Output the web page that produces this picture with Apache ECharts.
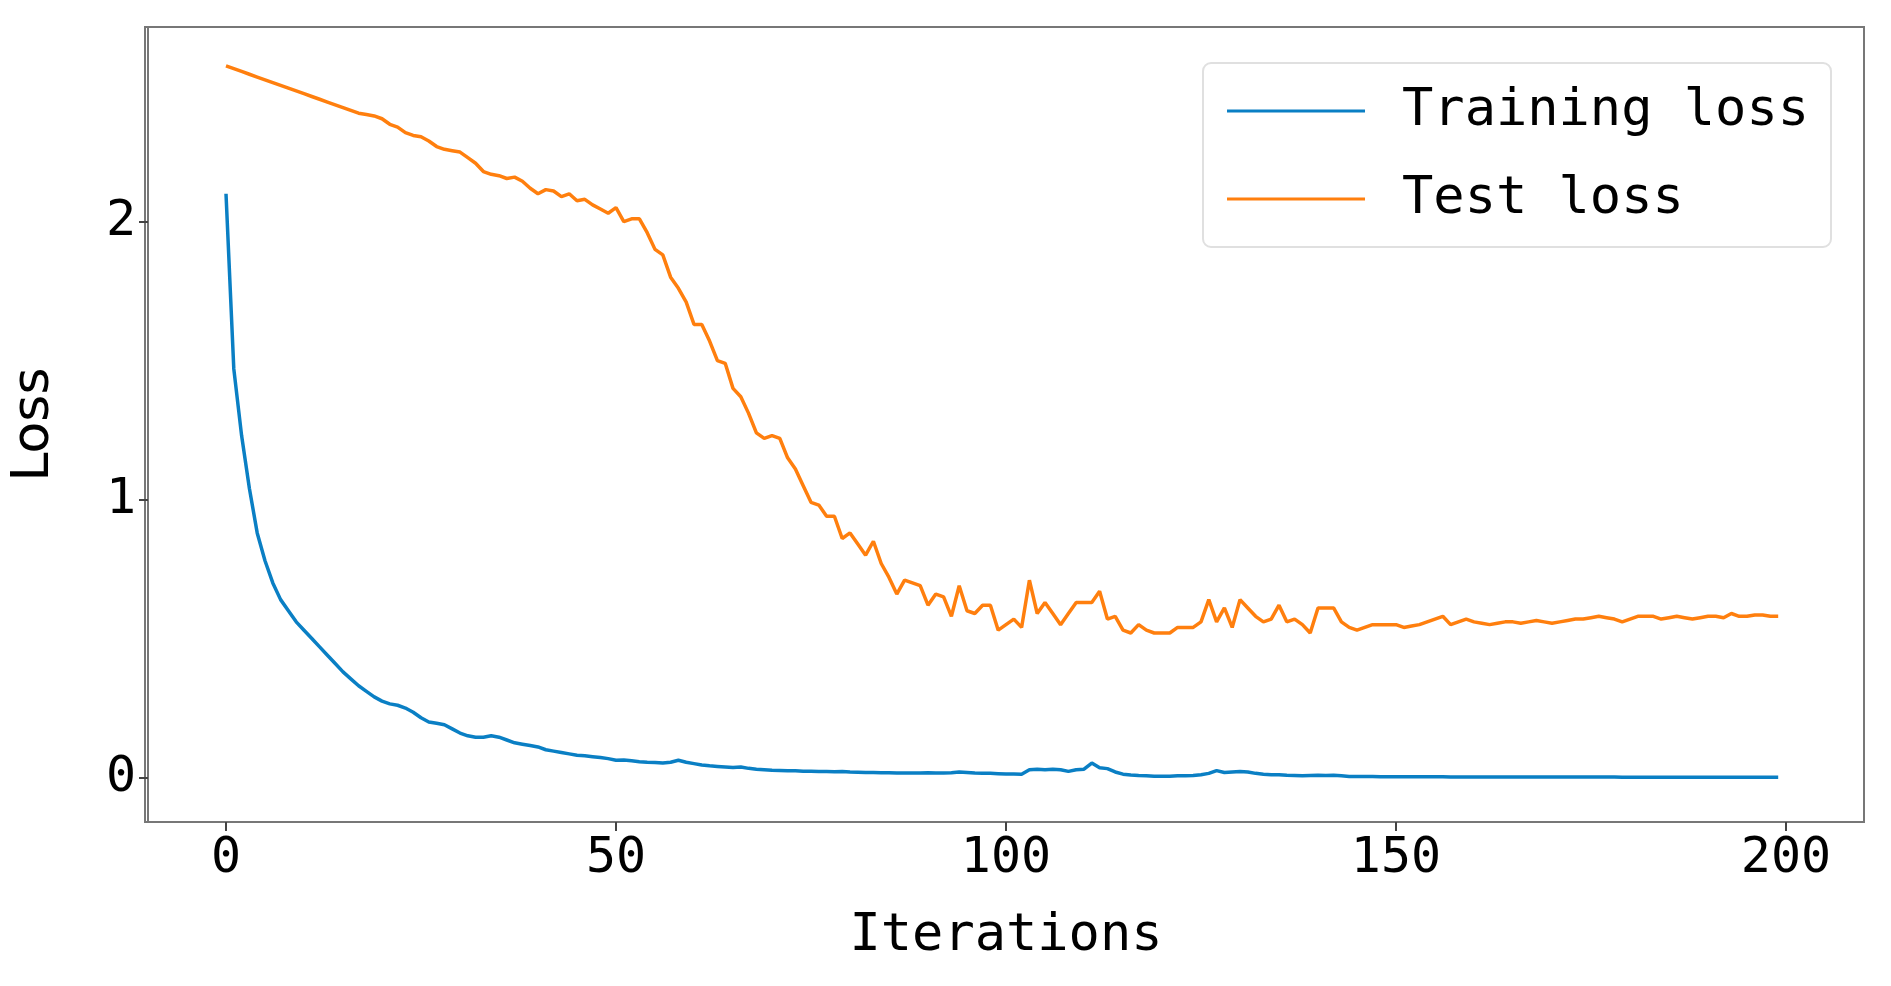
<!DOCTYPE html>
<html>
<head>
<meta charset="utf-8">
<script src="https://cdn.jsdelivr.net/npm/echarts@6/dist/echarts.min.js"></script>
<style>html,body{margin:0;background:#fff}#chart{width:1891px;height:986px}</style>
</head>
<body>
<div id="chart"></div>
<script>
// iterations 0..199
const iterations = Array.from({ length: 200 }, (_, i) => i)
const xTicks = [0, 50, 100, 150, 200]
const yTicks = [0, 1, 2]

const trainingLoss = [
  2.10, 1.47, 1.23, 1.04, 0.88, 0.78, 0.70, 0.64, 0.60, 0.56,
  0.53, 0.50, 0.47, 0.44, 0.41, 0.38, 0.355, 0.33, 0.31, 0.29,
  0.275, 0.265, 0.26, 0.25, 0.235, 0.215, 0.20, 0.195, 0.19, 0.175,
  0.16, 0.15, 0.145, 0.145, 0.15, 0.145, 0.135, 0.125, 0.12, 0.115,
  0.11, 0.10, 0.095, 0.09, 0.085, 0.08, 0.078, 0.075, 0.072, 0.068,
  0.062, 0.063, 0.06, 0.057, 0.055, 0.054, 0.052, 0.055, 0.062, 0.055,
  0.05, 0.045, 0.042, 0.04, 0.038, 0.036, 0.038, 0.033, 0.03, 0.028,
  0.026, 0.025, 0.024, 0.024, 0.023, 0.023, 0.022, 0.022, 0.021, 0.022,
  0.02, 0.019, 0.018, 0.018, 0.017, 0.017, 0.016, 0.016, 0.016, 0.016,
  0.017, 0.016, 0.016, 0.017, 0.02, 0.018, 0.016, 0.015, 0.015, 0.014,
  0.013, 0.013, 0.012, 0.028, 0.03, 0.028, 0.03, 0.028, 0.022, 0.028,
  0.03, 0.052, 0.035, 0.032, 0.02, 0.012, 0.009, 0.007, 0.006, 0.005,
  0.005, 0.005, 0.006, 0.006, 0.007, 0.01, 0.015, 0.025, 0.018, 0.02,
  0.022, 0.02, 0.015, 0.012, 0.01, 0.01, 0.008, 0.007, 0.006, 0.007,
  0.008, 0.007, 0.008, 0.006, 0.004, 0.004, 0.004, 0.004, 0.003, 0.003,
  0.003, 0.003, 0.003, 0.003, 0.003, 0.003, 0.003, 0.002, 0.002, 0.002,
  0.002, 0.002, 0.002, 0.002, 0.002, 0.002, 0.002, 0.002, 0.002, 0.002,
  0.002, 0.002, 0.002, 0.002, 0.002, 0.002, 0.002, 0.002, 0.002, 0.001,
  0.001, 0.001, 0.001, 0.001, 0.001, 0.001, 0.001, 0.001, 0.001, 0.001,
  0.001, 0.001, 0.001, 0.001, 0.001, 0.001, 0.001, 0.001, 0.001, 0.001
]

const testLoss = [
  2.56, 2.55, 2.54, 2.53, 2.52, 2.51, 2.50, 2.49, 2.48, 2.47,
  2.46, 2.45, 2.44, 2.43, 2.42, 2.41, 2.40, 2.39, 2.385, 2.38,
  2.37, 2.35, 2.34, 2.32, 2.31, 2.305, 2.29, 2.27, 2.26, 2.255,
  2.25, 2.23, 2.21, 2.18, 2.17, 2.165, 2.155, 2.16, 2.145, 2.12,
  2.10, 2.115, 2.11, 2.09, 2.10, 2.075, 2.08, 2.06, 2.045, 2.03,
  2.05, 2.00, 2.01, 2.01, 1.96, 1.90, 1.88, 1.80, 1.76, 1.71,
  1.63, 1.63, 1.57, 1.50, 1.49, 1.40, 1.37, 1.31, 1.24, 1.22,
  1.23, 1.22, 1.15, 1.11, 1.05, 0.99, 0.98, 0.94, 0.94, 0.86,
  0.88, 0.84, 0.80, 0.85, 0.77, 0.72, 0.66, 0.71, 0.70, 0.69,
  0.62, 0.66, 0.65, 0.58, 0.69, 0.60, 0.59, 0.62, 0.62, 0.53,
  0.55, 0.57, 0.54, 0.71, 0.59, 0.63, 0.59, 0.55, 0.59, 0.63,
  0.63, 0.63, 0.67, 0.57, 0.58, 0.53, 0.52, 0.55, 0.53, 0.52,
  0.52, 0.52, 0.54, 0.54, 0.54, 0.56, 0.64, 0.56, 0.61, 0.54,
  0.64, 0.61, 0.58, 0.56, 0.57, 0.62, 0.56, 0.57, 0.55, 0.52,
  0.61, 0.61, 0.61, 0.56, 0.54, 0.53, 0.54, 0.55, 0.55, 0.55,
  0.55, 0.54, 0.545, 0.55, 0.56, 0.57, 0.58, 0.55, 0.56, 0.57,
  0.56, 0.555, 0.55, 0.555, 0.56, 0.56, 0.555, 0.56, 0.565, 0.56,
  0.555, 0.56, 0.565, 0.57, 0.57, 0.575, 0.58, 0.575, 0.57, 0.56,
  0.57, 0.58, 0.58, 0.58, 0.57, 0.575, 0.58, 0.575, 0.57, 0.575,
  0.58, 0.58, 0.575, 0.59, 0.58, 0.58, 0.585, 0.585, 0.58, 0.58
]

const font = 'DejaVu Sans Mono'
const myChart = echarts.init(document.getElementById('chart'))

const option = {
  animation: false,
  grid: { left: 145, right: 27, top: 27, bottom: 164 },
  legend: {
    right: 60, top: 63,
    orient: 'vertical',
    padding: [22, 22, 22, 24],
    itemGap: 36,
    itemWidth: 138, itemHeight: 3,
    backgroundColor: '#fff',
    borderColor: '#e0e0e0', borderWidth: 2, borderRadius: 8,
    icon: 'rect',
    textStyle: { fontFamily: font, fontSize: 52, color: '#000', padding: [0, 0, 0, 32] },
    data: ['Training loss', 'Test loss']
  },
  xAxis: {
    type: 'value', min: -10, max: 210,
    name: 'Iterations', nameLocation: 'middle', nameGap: 88,
    nameTextStyle: { fontFamily: font, fontSize: 52, color: '#000' },
    axisLine: { show: true, onZero: false, lineStyle: { color: '#777', width: 2 } },
    axisTick: { show: true, length: 9, customValues: xTicks, lineStyle: { color: '#444', width: 2 } },
    axisLabel: { customValues: xTicks, fontFamily: font, fontSize: 50, color: '#000', margin: 12 },
    splitLine: { show: false }
  },
  yAxis: {
    type: 'value', min: -0.16, max: 2.7,
    name: 'Loss', nameLocation: 'middle', nameGap: 88, nameRotate: 90,
    nameTextStyle: { fontFamily: 'DejaVu Sans', fontSize: 52, color: '#000' },
    axisLine: { show: true, onZero: false, lineStyle: { color: '#777', width: 2 } },
    axisTick: { show: true, length: 9, customValues: yTicks, lineStyle: { color: '#444', width: 2 } },
    axisLabel: { customValues: yTicks, fontFamily: font, fontSize: 50, color: '#000', margin: 12 },
    splitLine: { show: false }
  },
  series: [
    {
      name: 'Training loss', type: 'line', showSymbol: false,
      data: iterations.map((x, i) => [x, trainingLoss[i]]),
      itemStyle: { color: '#0a7fc4' }, lineStyle: { color: '#0a7fc4', width: 3.5 }
    },
    {
      name: 'Test loss', type: 'line', showSymbol: false,
      data: iterations.map((x, i) => [x, testLoss[i]]),
      itemStyle: { color: '#ff7f0e' }, lineStyle: { color: '#ff7f0e', width: 3.5 }
    }
  ],
  graphic: [{
    type: 'rect', shape: { x: 145, y: 27, width: 1719, height: 795 },
    style: { fill: 'none', stroke: '#777', lineWidth: 2 }, silent: true
  }]
}

myChart.setOption(option)
</script>
</body>
</html>
